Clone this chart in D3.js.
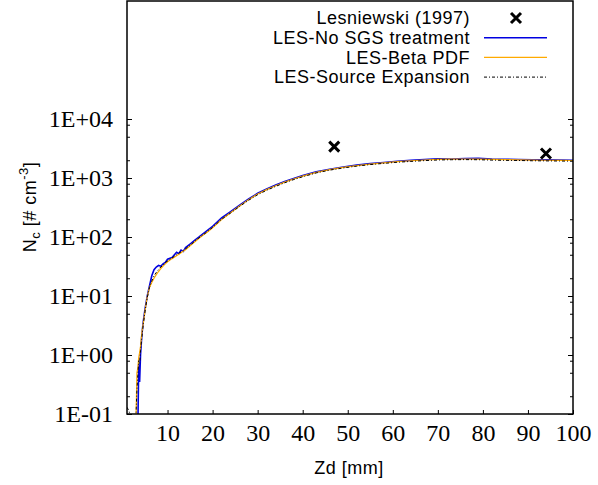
<!DOCTYPE html>
<html>
<head>
<meta charset="utf-8">
<script src="https://cdn.jsdelivr.net/npm/d3@7"></script>
<style>
  body { margin: 0; background: #fff; }
  .tick text { font-family: "Liberation Serif", serif; font-size: 24px; fill: #000; }
  .domain { display: none; }
  .tick line { stroke: #000; stroke-width: 1; }
</style>
</head>
<body>
<script>
const width = 598;
const height = 485;

// Zd positions [mm] shared by the three LES curves
const zd = [1, 1.5, 2, 2.5, 3, 3.2, 3.4, 3.6, 3.8, 4, 4.3, 4.6, 5, 5.5, 6, 6.5, 7, 7.5, 8, 8.5,
  9, 9.5, 10, 11, 12, 12.5, 13, 13.5, 14, 15, 16, 17, 18, 19, 20, 22, 24, 26, 28, 30,
  32, 34, 36, 38, 40, 43, 46, 49, 52, 55, 58, 61, 64, 67, 70, 73, 76, 79, 82, 85,
  88, 91, 94, 97, 100];

const noSgs = [0.01, 0.01, 0.01, 0.01, 0.01, 0.01, 0.05, 0.7, 0.35, 1.0, 2.2, 3.6, 6, 10, 15, 22, 28, 31, 33, 32,
  35, 37, 42, 45, 55, 52, 60, 57, 66, 76, 88, 100, 115, 132, 152, 210, 270, 345, 440, 550,
  650, 760, 870, 985, 1100, 1270, 1410, 1540, 1650, 1750, 1830, 1920, 1990, 2060, 2120, 2100, 2140, 2160, 2100, 2080,
  2060, 2040, 2030, 2020, 2000];

const betaPdf = [0.01, 0.01, 0.01, 0.01, 0.08, 0.5, 0.6, 0.9, 1.1, 1.4, 2.4, 3.4, 5.6, 9.8, 14, 17, 20, 23, 26, 29,
  32, 35, 38, 43, 48, 51, 54, 58, 61, 71, 82, 95, 109, 124, 143, 198, 258, 335, 430, 535,
  635, 740, 850, 960, 1075, 1245, 1390, 1515, 1625, 1725, 1810, 1890, 1960, 2020, 2070, 2090, 2100, 2090, 2070, 2050,
  2030, 2010, 2000, 1990, 1980];

const sourceExp = [0.13, 0.11, 0.06, 0.05, 0.1, 0.25, 0.45, 0.8, 0.7, 1.2, 2.0, 3.3, 5.5, 9.5, 14, 18, 22, 25, 28, 31,
  33, 37, 39, 44, 50, 53, 56, 59, 63, 72, 84, 97, 110, 126, 145, 200, 255, 330, 420, 520,
  620, 720, 830, 940, 1050, 1220, 1360, 1480, 1590, 1690, 1770, 1850, 1910, 1970, 2020, 2040, 2050, 2040, 2010, 1990,
  1980, 1960, 1950, 1940, 1930];

// experimental points
const expZd = [47, 94];
const expNc = [3400, 2600];

const yTicks = [0.1, 1, 10, 100, 1000, 10000];
const yTickLabels = ["1E-01", "1E+00", "1E+01", "1E+02", "1E+03", "1E+04"];
const xTicks = [10, 20, 30, 40, 50, 60, 70, 80, 90, 100];

const legendItems = [
  { name: "Lesniewski (1997)", type: "cross" },
  { name: "LES-No SGS treatment", type: "line", color: "#0000e0", dash: null, w: 1.6 },
  { name: "LES-Beta PDF", type: "line", color: "#ffaa00", dash: null, w: 1.2 },
  { name: "LES-Source Expansion", type: "line", color: "#000", dash: "3,2,1,2", w: 1 }
];

let margin = { top: 1, right: 25, bottom: 71, left: 127 };

let svg = d3
  .select("body")
  .append("svg")
  .attr("width", width)
  .attr("height", height);

let xScale = d3
  .scaleLinear()
  .domain([1, 100])
  .range([margin.left, width - margin.right]);

let yScale = d3
  .scaleLog()
  .domain([0.1, 1e6])
  .range([height - margin.bottom, margin.top]);

// minor ticks at 2, 5, 8 of each decade
let minorTicks = [];
yTicks.slice(0, -1).forEach((t) => {
  [2, 5, 8].forEach((m) => minorTicks.push(t * m));
});

let leftAxis = d3
  .axisLeft(yScale)
  .tickValues(yTicks)
  .tickSize(-5)
  .tickPadding(14)
  .tickFormat((d, i) => yTickLabels[i]);

svg
  .append("g")
  .attr("transform", `translate(${margin.left}, 0)`)
  .call(leftAxis);

svg
  .append("g")
  .attr("transform", `translate(${margin.left}, 0)`)
  .call(d3.axisLeft(yScale).tickValues(minorTicks).tickSize(-3).tickFormat(""));

svg
  .append("g")
  .attr("transform", `translate(${width - margin.right}, 0)`)
  .call(d3.axisRight(yScale).tickValues(yTicks).tickSize(-5).tickFormat(""));

svg
  .append("g")
  .attr("transform", `translate(${width - margin.right}, 0)`)
  .call(d3.axisRight(yScale).tickValues(minorTicks).tickSize(-3).tickFormat(""));

svg
  .append("g")
  .attr("transform", `translate(0, ${height - margin.bottom})`)
  .call(d3.axisBottom(xScale).tickValues(xTicks).tickSize(-4).tickPadding(10))
  .selectAll("text")
  .attr("dy", "0.71em");

// clip for curves
svg
  .append("clipPath")
  .attr("id", "plotClip")
  .append("rect")
  .attr("x", margin.left)
  .attr("y", margin.top)
  .attr("width", width - margin.left - margin.right)
  .attr("height", height - margin.top - margin.bottom);

let line = d3
  .line()
  .x((d) => xScale(d[0]))
  .y((d) => yScale(d[1]));

let plot = svg.append("g").attr("clip-path", "url(#plotClip)");

let series = [
  { values: noSgs, color: "#0000e0", dash: null, w: 1.6 },
  { values: betaPdf, color: "#ffaa00", dash: null, w: 1.2 },
  { values: sourceExp, color: "#000", dash: "3,2,1,2", w: 1 }
];

series.forEach((s) => {
  plot
    .append("path")
    .datum(zd.map((z, i) => [z, s.values[i]]))
    .attr("fill", "none")
    .attr("stroke", s.color)
    .attr("stroke-width", s.w)
    .attr("stroke-dasharray", s.dash)
    .attr("d", line);
});

function cross(g, cx, cy, r) {
  g.append("path")
    .attr("d", `M${cx - r},${cy - r}L${cx + r},${cy + r}M${cx - r},${cy + r}L${cx + r},${cy - r}`)
    .attr("stroke", "#000")
    .attr("stroke-width", 3)
    .attr("fill", "none");
}

expZd.forEach((z, i) => cross(svg, xScale(z), yScale(expNc[i]), 5));

// frame
svg
  .append("rect")
  .attr("x", margin.left)
  .attr("y", margin.top)
  .attr("width", width - margin.left - margin.right)
  .attr("height", height - margin.top - margin.bottom)
  .attr("fill", "none")
  .attr("stroke", "#000")
  .attr("stroke-width", 1.5);

// legend
let legend = svg.append("g");
legendItems.forEach((d, i) => {
  let y = 18 + i * 19.7;
  legend
    .append("text")
    .attr("x", 470)
    .attr("y", y)
    .attr("dy", "0.35em")
    .attr("text-anchor", "end")
    .style("font-family", "Liberation Sans, Arial, sans-serif")
    .style("font-size", "18px")
    .style("letter-spacing", "0.5px")
    .text(d.name);
  if (d.type == "cross") {
    cross(legend, 516, y, 5);
  } else {
    legend
      .append("line")
      .attr("x1", 484)
      .attr("x2", 547)
      .attr("y1", y)
      .attr("y2", y)
      .attr("stroke", d.color)
      .attr("stroke-width", d.w)
      .attr("stroke-dasharray", d.dash);
  }
});

// axis titles
svg
  .append("text")
  .attr("x", 349)
  .attr("y", 474)
  .attr("text-anchor", "middle")
  .style("font-family", "Liberation Sans, Arial, sans-serif")
  .style("font-size", "18px")
  .style("letter-spacing", "0.5px")
  .text("Zd [mm]");

let yTitle = svg
  .append("text")
  .attr("transform", "translate(36, 207) rotate(-90)")
  .attr("text-anchor", "middle")
  .style("font-family", "Liberation Sans, Arial, sans-serif")
  .style("font-size", "18px")
  .style("letter-spacing", "0.5px");
yTitle.append("tspan").text("N");
yTitle.append("tspan").attr("dy", 4).style("font-size", "13px").text("c");
yTitle.append("tspan").attr("dy", -4).text(" [# cm");
yTitle.append("tspan").attr("dy", -8).style("font-size", "13px").text("-3");
yTitle.append("tspan").attr("dy", 8).text("]");
</script>
</body>
</html>
